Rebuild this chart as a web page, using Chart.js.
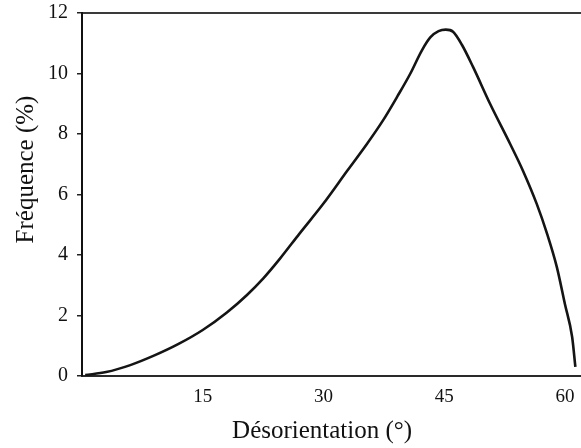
<!DOCTYPE html>
<html>
<head>
<meta charset="utf-8">
<script src="https://cdn.jsdelivr.net/npm/chart.js@4/dist/chart.umd.min.js"></script>
<style>
  html, body { margin: 0; padding: 0; background: #fff; }
  canvas { display: block; }
</style>
</head>
<body>
<canvas id="c" width="581" height="448"></canvas>
<script>
// Désorientation (degrés)
const angles = [0.4, 3, 6, 9, 12, 15, 18, 20.5, 22.5, 24.6, 27, 30, 33, 35.4, 37.4, 39.2, 40.8, 42.2, 43.3, 44.3, 45.2, 46.1, 47.2, 48.6, 50.7, 53.2, 54.8, 56.5, 57.8, 59, 60, 60.9, 61.3];
// Fréquence (%)
const frequence = [0.03, 0.13, 0.36, 0.68, 1.06, 1.52, 2.1, 2.68, 3.22, 3.88, 4.7, 5.7, 6.8, 7.67, 8.45, 9.25, 10.0, 10.75, 11.2, 11.4, 11.45, 11.38, 10.95, 10.21, 9.0, 7.67, 6.78, 5.69, 4.69, 3.6, 2.38, 1.29, 0.3];
const xTicks = [15, 30, 45, 60];
const yTicks = [0, 2, 4, 6, 8, 10, 12];

const points = angles.map((a, i) => ({ x: a, y: frequence[i] }));
const serif = "'Liberation Serif', 'Times New Roman', serif";

new Chart(document.getElementById('c'), {
  type: 'line',
  data: {
    datasets: [{
      data: points,
      borderColor: '#141414',
      borderWidth: 2.6,
      pointRadius: 0,
      fill: false,
      cubicInterpolationMode: 'monotone'
    }]
  },
  options: {
    responsive: false,
    animation: false,
    layout: { padding: { top: 13, right: 0, left: 0, bottom: 0 } },
    plugins: { legend: { display: false }, tooltip: { enabled: false } },
    scales: {
      x: {
        type: 'linear',
        min: 0,
        max: 62,
        afterBuildTicks: (s) => { s.ticks = xTicks.map(v => ({ value: v })); },
        afterFit: (s) => { s.height = 72; s.paddingLeft = 0; s.paddingRight = 0; },
        grid: { display: false, drawTicks: false },
        border: { display: true, color: '#2a2a2a', width: 2 },
        ticks: { color: '#111', font: { family: serif, size: 19 }, padding: 10, maxRotation: 0 },
        title: {
          display: true,
          text: 'Désorientation (°)   ',
          color: '#111',
          font: { family: serif, size: 25 },
          padding: { top: 0, bottom: 2 }
        }
      },
      x2: {
        type: 'linear',
        position: 'top',
        min: 0,
        max: 62,
        ticks: { display: false },
        grid: { display: false, drawTicks: false },
        border: { display: true, color: '#3a3a3a', width: 2 },
        afterFit: (s) => { s.height = 0; s.paddingLeft = 0; s.paddingRight = 0; }
      },
      y: {
        min: 0,
        max: 12,
        afterBuildTicks: (s) => { s.ticks = yTicks.map(v => ({ value: v })); },
        afterFit: (s) => { s.width = 82; s.paddingTop = 0; s.paddingBottom = 0; },
        grid: { display: true, drawOnChartArea: false, drawTicks: true, tickLength: 5, color: '#222', lineWidth: 1.5 },
        border: { display: true, color: '#111', width: 2 },
        ticks: { color: '#111', font: { family: serif, size: 20 }, padding: 9 },
        title: {
          display: true,
          text: '        Fréquence (%)',
          color: '#111',
          font: { family: serif, size: 25 },
          padding: { top: 11, bottom: 0 }
        }
      }
    }
  }
});
</script>
</body>
</html>
